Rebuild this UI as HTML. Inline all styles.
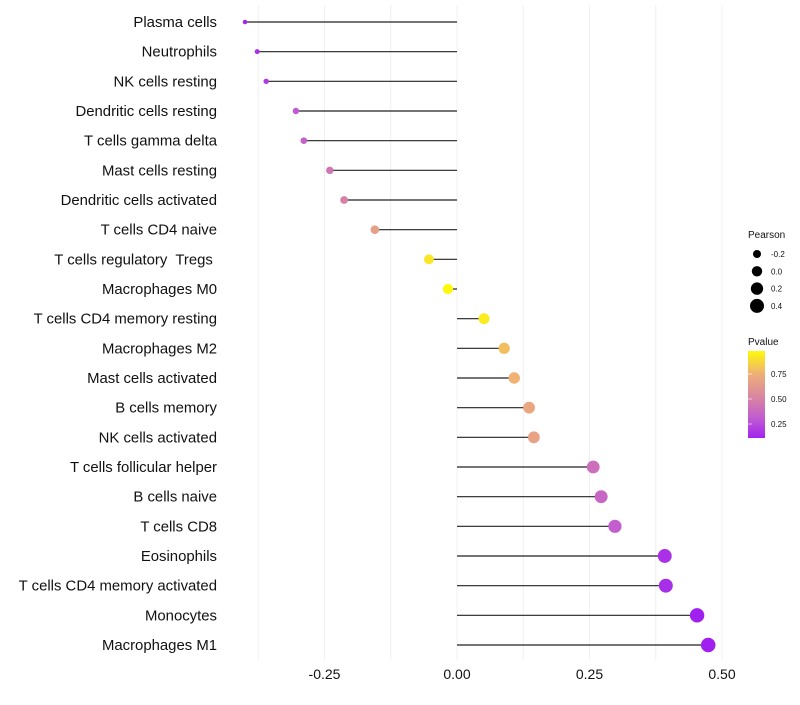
<!DOCTYPE html>
<html><head><meta charset="utf-8"><style>
body{margin:0;background:#fff;font-family:"Liberation Sans",sans-serif}
text{white-space:pre}
</style></head><body>
<svg id="chart" width="800" height="700" xmlns="http://www.w3.org/2000/svg"></svg>
<script>
const categories=["Plasma cells","Neutrophils","NK cells resting","Dendritic cells resting","T cells gamma delta","Mast cells resting","Dendritic cells activated","T cells CD4 naive","T cells regulatory  Tregs ","Macrophages M0","T cells CD4 memory resting","Macrophages M2","Mast cells activated","B cells memory","NK cells activated","T cells follicular helper","B cells naive","T cells CD8","Eosinophils","T cells CD4 memory activated","Monocytes","Macrophages M1"];
const pearson=[-0.40,-0.377,-0.36,-0.304,-0.289,-0.24,-0.213,-0.155,-0.053,-0.017,0.051,0.089,0.108,0.136,0.145,0.257,0.272,0.298,0.392,0.394,0.453,0.474];
const pvalue=[0.12,0.16,0.2,0.3,0.34,0.44,0.5,0.66,0.92,0.98,0.94,0.8,0.76,0.7,0.68,0.4,0.36,0.32,0.16,0.15,0.1,0.08];
const xTicks=[-0.25,0,0.25,0.5];
const xTickLabels=["-0.25","0.00","0.25","0.50"];
const gridVals=[-0.375,-0.25,-0.125,0,0.125,0.25,0.375,0.5];
const sizeLegend=[-0.2,0.0,0.2,0.4];
const sizeLegendLabels=["-0.2","0.0","0.2","0.4"];
const colorLegend=[0.25,0.5,0.75];
const colorLegendLabels=["0.25","0.50","0.75"];

const svg=document.getElementById('chart');
const NS='http://www.w3.org/2000/svg';
const x=v=>457+v*530;
const y=i=>22+i*(623/21);
const r=v=>Math.sqrt(5+(v+0.4)*55);
const stops=[[0.1,[160,32,240]],[0.3,[192,90,210]],[0.5,[215,130,165]],[0.75,[238,175,120]],[1.0,[255,255,0]]];
function col(p){
  if(p<=stops[0][0])return `rgb(${stops[0][1]})`;
  for(let k=1;k<stops.length;k++){if(p<=stops[k][0]){const a=stops[k-1],b=stops[k];const t=(p-a[0])/(b[0]-a[0]);return 'rgb('+a[1].map((c,j)=>Math.round(c+(b[1][j]-c)*t)).join(',')+')';}}
  return 'rgb(255,255,0)';
}
function el(t,a,txt){const e=document.createElementNS(NS,t);for(const k in a)e.setAttribute(k,a[k]);if(txt!=null)e.textContent=txt;svg.appendChild(e);return e;}

gridVals.forEach(g=>{
  const e=el('line',{x1:x(g),x2:x(g),y1:5,y2:660,stroke:'#f0f0f0','stroke-width':1});
  
  
});
xTicks.forEach((t,i)=>{
  const e=el('text',{x:x(t),y:679,'text-anchor':'middle','font-size':14,fill:'#111'},xTickLabels[i]);
  
  
});
categories.forEach((c,i)=>{
  const l=el('text',{x:217,y:y(i)+5,'text-anchor':'end','font-size':14.9,fill:'#111'},c);
  
  
  const s=el('line',{x1:x(0),x2:x(pearson[i]),y1:y(i),y2:y(i),stroke:'#222','stroke-width':1.2});
  
  
  const p=el('circle',{cx:x(pearson[i]),cy:y(i),r:r(pearson[i]),fill:col(pvalue[i])});
  
  
});
let t=el('text',{x:748,y:238,'font-size':10,fill:'#111'},'Pearson');


sizeLegend.forEach((v,i)=>{
  const cy=254+i*17.3;
  const c=el('circle',{cx:757,cy:cy,r:r(v),fill:'#000'});
  
  
  const l=el('text',{x:771,y:cy+3,'font-size':8,fill:'#111'},sizeLegendLabels[i]);
  
  
});
t=el('text',{x:748,y:345,'font-size':10,fill:'#111'},'Pvalue');


const defs=document.createElementNS(NS,'defs');svg.appendChild(defs);
const lg=document.createElementNS(NS,'linearGradient');lg.setAttribute('id','pg');lg.setAttribute('x1','0');lg.setAttribute('y1','1');lg.setAttribute('x2','0');lg.setAttribute('y2','0');defs.appendChild(lg);
for(let k=0;k<=20;k++){const p=0.11+k*(0.98-0.11)/20;const s=document.createElementNS(NS,'stop');s.setAttribute('offset',k/20);s.setAttribute('stop-color',col(p));lg.appendChild(s);}
const bar=el('rect',{x:748,y:351,width:17,height:87,fill:'url(#pg)'});


colorLegend.forEach((v,i)=>{
  const yy=351+(0.98-v)*100;
  const tk=el('line',{x1:748,x2:752,y1:yy,y2:yy,stroke:'#fff','stroke-opacity':0.6});
  
  
  const l=el('text',{x:771,y:yy+3,'font-size':8,fill:'#111'},colorLegendLabels[i]);
  
  
});
</script>
</body></html>
